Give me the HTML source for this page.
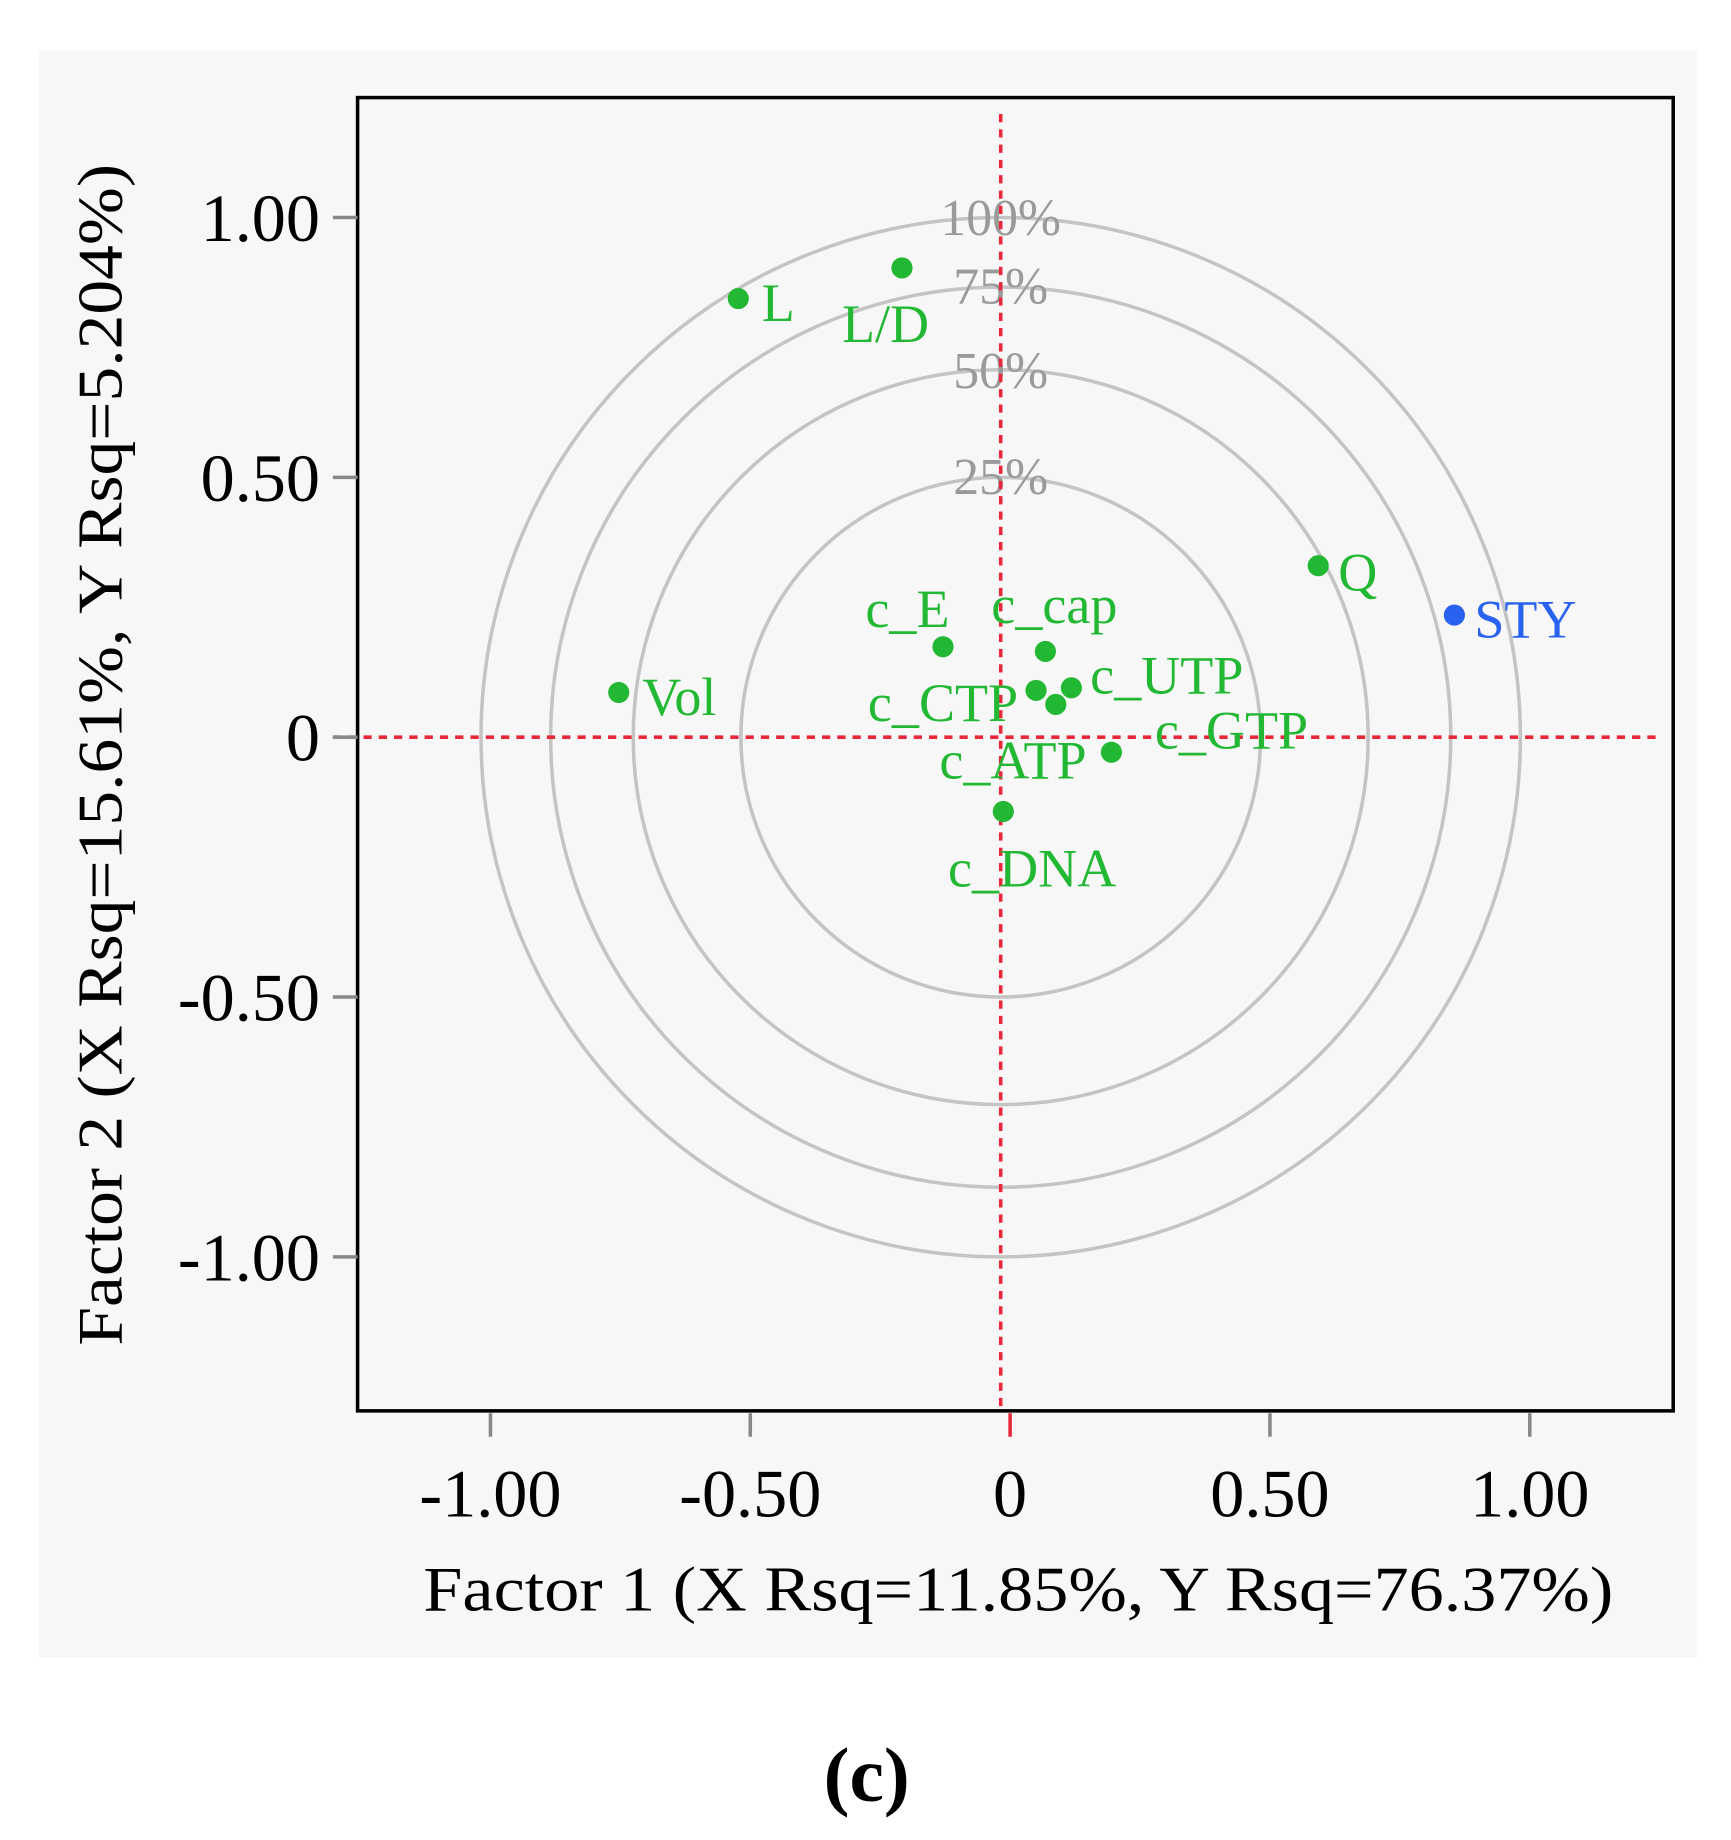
<!DOCTYPE html>
<html><head><meta charset="utf-8"><style>
html,body{margin:0;padding:0;background:#fff}
svg{display:block}
text{font-family:"Liberation Serif",serif}
</style></head><body>
<svg id="chart" width="1731" height="1840" viewBox="0 0 1472 1565" xmlns="http://www.w3.org/2000/svg">
<rect x="33" y="43" width="1410" height="1367" fill="#f7f7f7"/>
<rect x="304" y="83" width="1119" height="1117" fill="#f7f7f7" stroke="#000" stroke-width="3"/>
<g id="circles"></g>
<g id="refs"></g>
<g id="ticks"></g>
<g id="points"></g>
<text x="866" y="1370" font-size="54" text-anchor="middle" textLength="1012" lengthAdjust="spacingAndGlyphs" fill="#000">Factor 1 (X Rsq=11.85%, Y Rsq=76.37%)</text>
<text transform="translate(103,642) rotate(-90)" font-size="54" text-anchor="middle" textLength="1005" lengthAdjust="spacingAndGlyphs" fill="#000">Factor 2 (X Rsq=15.61%, Y Rsq=5.204%)</text>
<text x="737" y="1532" font-size="66" font-weight="bold" text-anchor="middle" fill="#000">(c)</text>
</svg>
<script>
const names=["L","L/D","Q","STY","c_E","c_cap","Vol","c_CTP","c_UTP","c_ATP","c_GTP","c_DNA"];
const f1=[-0.505,-0.19,0.611,0.873,-0.111,0.086,-0.735,0.068,0.136,0.106,0.213,0.005];
const f2=[0.844,0.903,0.330,0.235,0.174,0.165,0.086,0.090,0.095,0.063,-0.029,-0.143];
const tickVals=[-1,-0.5,0,0.5,1];
const tickLabels=["-1.00","-0.50","0","0.50","1.00"];
const circlePct=[100,75,50,25];
const circleLabels=["100%","75%","50%","25%"];
const lblOff=[[20,19],[-51,63],[17,21],[17,19],[-66,-17],[-46,-24],[20,19],[-143,26],[16,5],[-99,63],[37,-3],[-47,64]];
const pctY=[200,258,330,420];
const NS="http://www.w3.org/2000/svg";
const U=442, cx=851, cy=627, tx0=859;
const sx=v=>cx+v*U, sy=v=>cy-v*U, tx=v=>tx0+v*U;
function mk(tag,attrs,parent,txt){const e=document.createElementNS(NS,tag);for(const k in attrs)e.setAttribute(k,attrs[k]);if(txt!==undefined)e.textContent=txt;document.getElementById(parent).appendChild(e);return e;}
circlePct.forEach((p,i)=>{
 const c=mk('circle',{cx:cx,cy:cy,r:U*Math.sqrt(p/100),fill:'none',stroke:'#c4c4c4','stroke-width':3},'circles');
 
 
 const t=mk('text',{x:cx,y:pctY[i],'font-size':44,'text-anchor':'middle',fill:'#9a9a9a'},'circles',circleLabels[i]);
 
 
});
let l=mk('line',{x1:283,y1:sy(0),x2:1412,y2:sy(0),stroke:'#e8283a','stroke-width':3,'stroke-dasharray':'7,6'},'refs');


l=mk('line',{x1:sx(0),y1:97,x2:sx(0),y2:1198,stroke:'#e8283a','stroke-width':3,'stroke-dasharray':'7,6'},'refs');


tickVals.forEach((v,i)=>{
 let a=mk('line',{x1:283,y1:sy(v),x2:304,y2:sy(v),stroke:'#888','stroke-width':3},'ticks');
 
 
 let t=mk('text',{x:272,y:sy(v)+20,'font-size':58,'text-anchor':'end',fill:'#000'},'ticks',tickLabels[i]);
 
 
 a=mk('line',{x1:tx(v),y1:1202,x2:tx(v),y2:1222,stroke:v===0?'#e8283a':'#888','stroke-width':3},'ticks');
 
 
 t=mk('text',{x:tx(v),y:1290,'font-size':58,'text-anchor':'middle',fill:'#000'},'ticks',tickLabels[i]);
 
 
});
names.forEach((n,i)=>{
 const col=n==="STY"?'#2a62f0':'#22b833';
 const x=sx(f1[i]),y=sy(f2[i]);
 const c=mk('circle',{cx:x,cy:y,r:9,fill:col},'points');
 
 
 const t=mk('text',{x:x+lblOff[i][0],y:y+lblOff[i][1],'font-size':46,fill:col},'points',n);
 
 
});
</script>
</body></html>
